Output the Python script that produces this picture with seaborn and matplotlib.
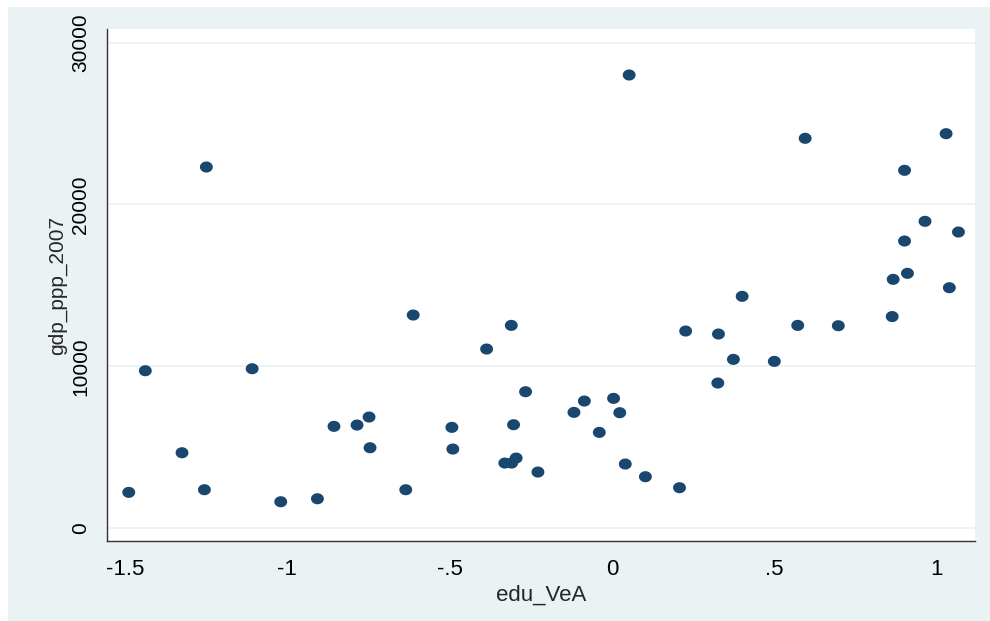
import numpy as np
import pandas as pd
import matplotlib
matplotlib.use("Agg")
import matplotlib.pyplot as plt
from matplotlib.path import Path
from matplotlib.patches import Rectangle
import seaborn as sns

# values
edu_vea = [-1.249, -0.612, 0.053, 0.595, 1.029, 0.901, 0.964, 1.067, 0.901, 0.910,
           0.866, 1.039, 0.401, 0.863, -0.386, -1.437, -1.108, -0.748, -0.856, -0.785,
           -0.493, -0.745, -0.490, -1.324, -1.488, -1.255, -1.020, -0.907, -0.635, -0.310,
           0.227, 0.328, 0.572, 0.697, 0.374, 0.500, 0.326, -0.266, -0.085, 0.005,
           -0.117, 0.024, -0.303, -0.039, -0.330, -0.309, -0.295, -0.228, 0.041, 0.103,
           0.208]
gdp_ppp_2007 = [22311, 13164, 27998, 24085, 24370, 22107, 18955, 18294, 17738, 15741,
                15370, 14852, 14320, 13070, 11063, 9722, 9846, 6860, 6285, 6366,
                6223, 4963, 4883, 4654, 2206, 2369, 1625, 1811, 2369, 12525,
                12176, 11990, 12525, 12504, 10424, 10300, 8962, 8426, 7849, 8014,
                7149, 7128, 6386, 5912, 4017, 4017, 4326, 3461, 3956, 3173,
                2493]

x_ticks = [-1.5, -1, -0.5, 0, 0.5, 1]
x_tick_labels = ["-1.5", "-1", "-.5", "0", ".5", "1"]
y_ticks = [0, 10000, 20000, 30000]

df = pd.DataFrame({"edu_VeA": edu_vea, "gdp_ppp_2007": gdp_ppp_2007})

sns.set_style("white")
plt.rcParams["font.family"] = ["Liberation Sans", "DejaVu Sans"]

bg = "#EAF2F3"
navy = "#1A476F"

fig = plt.figure(figsize=(9.9, 6.21), dpi=100, facecolor="white")
fig.patches.append(Rectangle((8 / 990, 0), 1, 1 - 7 / 621, transform=fig.transFigure,
                             facecolor=bg, edgecolor="none", zorder=-1))
ax = fig.add_axes([107 / 990, 1 - 541 / 621, (975 - 107) / 990, (541 - 29) / 621])
ax.set_facecolor("white")

# slightly wide ellipse marker like the Stata export
t = np.linspace(0, 2 * np.pi, 60)
ell = Path(np.column_stack([np.cos(t), 0.86 * np.sin(t)]), closed=True)

sns.scatterplot(data=df, x="edu_VeA", y="gdp_ppp_2007", ax=ax, marker=ell,
                s=86, color=navy, edgecolor="none", linewidth=0, zorder=3)

ax.set_xlim(-1.555, 1.118)
ax.set_ylim(-800, 30840)
ax.set_xticks(x_ticks)
ax.set_xticklabels(x_tick_labels, fontsize=16)
ax.set_yticks(y_ticks)
ax.set_yticklabels([str(v) for v in y_ticks], rotation=90, va="center", fontsize=15)

ax.grid(axis="y", color=bg, linewidth=1.3, zorder=1)
ax.grid(axis="x", visible=False)
for side in ["top", "right"]:
    ax.spines[side].set_visible(False)
for side in ["left", "bottom"]:
    ax.spines[side].set_color("#333333")
    ax.spines[side].set_linewidth(1.0)

ax.tick_params(axis="both", direction="out", length=7, width=0.9, color="#333333",
               labelcolor="black")
ax.tick_params(axis="x", pad=6)
ax.tick_params(axis="y", pad=5)
ax.set_xlabel("edu_VeA", fontsize=16, labelpad=3)
ax.set_ylabel("gdp_ppp_2007", fontsize=15, labelpad=3)

fig.savefig("out.png", dpi=100, facecolor=fig.get_facecolor())
